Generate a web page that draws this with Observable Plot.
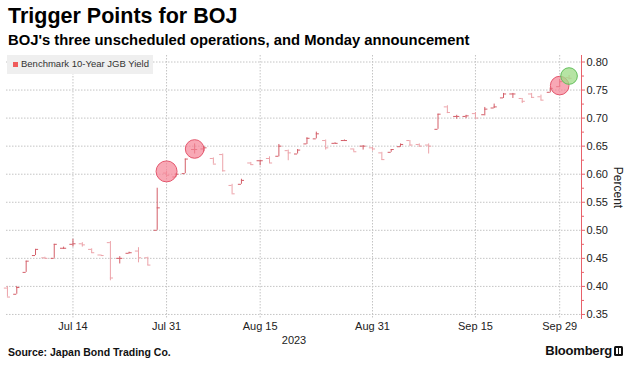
<!DOCTYPE html>
<html>
<head>
<meta charset="utf-8">
<script src="https://cdn.jsdelivr.net/npm/d3@7"></script>
<script src="https://cdn.jsdelivr.net/npm/@observablehq/plot@0.6"></script>
<style>
  html, body { margin: 0; padding: 0; background: #fff; }
  #wrap { position: relative; width: 638px; height: 374px; overflow: hidden; font-family: "Liberation Sans", Arial, sans-serif; }
  #title { position: absolute; left: 8px; top: 4px; font-weight: bold; font-size: 21.5px; color: #000; white-space: nowrap; }
  #subtitle { position: absolute; left: 8px; top: 32px; font-weight: bold; font-size: 14.8px; color: #000; white-space: nowrap; }
  #chart { position: absolute; left: 0; top: 50px; }
  #legend { position: absolute; left: 7px; top: 55px; width: 146px; height: 19px; background: #efefef; }
  #legend .sw { position: absolute; left: 6px; top: 7px; width: 5px; height: 5px; background: #ef5b5b; }
  #legend .lb { position: absolute; left: 14px; top: 3px; font-size: 9.5px; color: #333; white-space: nowrap; }
  #source { position: absolute; left: 8px; top: 346px; font-weight: bold; font-size: 10.5px; color: #111; white-space: nowrap; }
  #brand { position: absolute; right: 26px; top: 343px; font-weight: bold; font-size: 13px; color: #111; white-space: nowrap; letter-spacing: -0.2px; }
  #icon { position: absolute; left: 614px; top: 346px; }
</style>
</head>
<body>
<div id="wrap">
  <div id="title">Trigger Points for BOJ</div>
  <div id="subtitle">BOJ's three unscheduled operations, and Monday announcement</div>
  <div id="chart"></div>
  <div id="legend"><div class="sw"></div><div class="lb">Benchmark 10-Year JGB Yield</div></div>
  <div id="source">Source: Japan Bond Trading Co.</div>
  <div id="brand">Bloomberg</div>
  <svg id="icon" width="9" height="10" viewBox="0 0 9 10"><rect x="0" y="0" width="9" height="10" rx="1.5" fill="#111"/><rect x="2" y="2" width="2" height="6" fill="#fff"/><rect x="5" y="2" width="2" height="6" fill="#fff"/></svg>
</div>
<script>
// Trading days (Japan), 2023
const dates = [
  "2023-07-05","2023-07-06","2023-07-07","2023-07-10","2023-07-11","2023-07-12","2023-07-13","2023-07-14",
  "2023-07-18","2023-07-19","2023-07-20","2023-07-21","2023-07-24","2023-07-25","2023-07-26","2023-07-27",
  "2023-07-28","2023-07-31",
  "2023-08-01","2023-08-02","2023-08-03","2023-08-04","2023-08-07","2023-08-08","2023-08-09","2023-08-10",
  "2023-08-14","2023-08-15","2023-08-16","2023-08-17","2023-08-18","2023-08-21","2023-08-22","2023-08-23",
  "2023-08-24","2023-08-25","2023-08-28","2023-08-29","2023-08-30","2023-08-31",
  "2023-09-01","2023-09-04","2023-09-05","2023-09-06","2023-09-07","2023-09-08","2023-09-11","2023-09-12",
  "2023-09-13","2023-09-14","2023-09-15","2023-09-19","2023-09-20","2023-09-21","2023-09-22","2023-09-25",
  "2023-09-26","2023-09-27","2023-09-28","2023-09-29",
  "2023-10-02"
];
const open  = [0.397,0.386,0.425,0.455,0.451,0.450,0.468,0.475, 0.476,0.466,0.456,0.478,0.450,0.459,0.463,0.451, 0.500,0.602,
               0.595,0.601,0.644,0.645,0.628,0.635,0.580,0.582, 0.620,0.624,0.628,0.632,0.642,0.636,0.654,0.663, 0.660,0.655,0.660,0.645,0.650,0.647,
               0.638,0.639,0.649,0.660,0.653,0.652,0.680,0.720, 0.703,0.703,0.708,0.706,0.718,0.736,0.743,0.735, 0.743,0.738,0.746,0.756,
               0.772];
const high  = [0.400,0.400,0.445,0.466,0.452,0.475,0.470,0.484, 0.478,0.467,0.456,0.480,0.453,0.461,0.469,0.452, 0.575,0.605,
               0.601,0.627,0.654,0.649,0.629,0.636,0.582,0.591, 0.621,0.625,0.631,0.653,0.643,0.644,0.665,0.675, 0.661,0.656,0.661,0.645,0.651,0.648,
               0.639,0.644,0.654,0.660,0.654,0.654,0.707,0.722, 0.705,0.705,0.710,0.719,0.725,0.744,0.744,0.735, 0.744,0.741,0.754,0.769,
               0.776];
const low   = [0.381,0.386,0.425,0.455,0.449,0.450,0.466,0.470, 0.470,0.459,0.455,0.410,0.440,0.458,0.442,0.437, 0.500,0.594,
               0.594,0.601,0.636,0.640,0.618,0.604,0.565,0.582, 0.616,0.615,0.619,0.631,0.624,0.636,0.653,0.663, 0.643,0.654,0.659,0.640,0.643,0.641,
               0.625,0.639,0.648,0.650,0.648,0.636,0.680,0.708, 0.698,0.699,0.699,0.704,0.717,0.735,0.735,0.726, 0.735,0.731,0.745,0.754,
               0.768];
const close = [0.381,0.398,0.445,0.466,0.450,0.475,0.468,0.476, 0.474,0.460,0.455,0.415,0.450,0.460,0.451,0.438, 0.540,0.598,
               0.600,0.627,0.644,0.647,0.618,0.606,0.565,0.589, 0.617,0.624,0.620,0.650,0.638,0.643,0.664,0.672, 0.647,0.655,0.660,0.640,0.650,0.645,
               0.626,0.644,0.653,0.652,0.650,0.650,0.707,0.710, 0.703,0.704,0.700,0.716,0.720,0.743,0.743,0.730, 0.737,0.732,0.753,0.765,
               0.771];

// BOJ unscheduled operations and Monday announcement
const opDates = ["2023-07-31","2023-08-03","2023-09-29"];
const opYields = [0.605, 0.645, 0.758];
const announceDates = ["2023-10-02"];
const announceYields = [0.775];

// Axis ticks
const xTickDates = ["2023-07-14","2023-07-31","2023-08-15","2023-08-31","2023-09-15","2023-09-29"];
const xTickLabels = ["Jul 14","Jul 31","Aug 15","Aug 31","Sep 15","Sep 29"];
const yTicks = [0.35,0.40,0.45,0.50,0.55,0.60,0.65,0.70,0.75,0.80];
const yMinorTicks = [0.375,0.425,0.475,0.525,0.575,0.625,0.675,0.725,0.775];

const idx = d => dates.indexOf(d);
const bars = dates.map((d, i) => ({i, date: d, open: open[i], high: high[i], low: low[i], close: close[i]}));
const ops = opDates.map((d, k) => ({i: idx(d), y: opYields[k]}));
const ann = announceDates.map((d, k) => ({i: idx(d), y: announceYields[k]}));
const xTicks = xTickDates.map(idx);
const xLabel = new Map(xTicks.map((t, k) => [t, xTickLabels[k]]));

const up = "#d45f69", down = "#eca3a9", axisRed = "#e8616a";
const barColor = d => d.close >= d.open ? up : down;
const xDomain = [-0.1, 61.33];
const tickHalf = 0.33;
const opStyle = {x: "i", y: "y", fill: "#f58396", fillOpacity: 0.7, stroke: "#e4576d", strokeWidth: 1};

const chart = Plot.plot({
  width: 638,
  height: 295,
  marginTop: 5,
  marginBottom: 26,
  marginLeft: 6,
  marginRight: 57,
  style: {fontFamily: "Liberation Sans, Arial, sans-serif", fontSize: "11px", background: "transparent"},
  x: {domain: xDomain, label: null, axis: null},
  y: {domain: [0.341, 0.8116], label: null, axis: null},
  color: {type: "identity"},
  marks: [
    Plot.gridY(yTicks, {stroke: "#c4c4c4", strokeOpacity: 1, strokeDasharray: "1.5,1.5"}),
    Plot.gridX(xTicks, {stroke: "#c4c4c4", strokeOpacity: 1, strokeDasharray: "1.5,1.5"}),
    Plot.ruleX(bars, {x: "i", y1: "low", y2: "high", stroke: barColor, strokeWidth: 1}),
    Plot.ruleY(bars, {y: "open", x1: d => d.i - tickHalf, x2: "i", stroke: barColor, strokeWidth: 1}),
    Plot.ruleY(bars, {y: "close", x1: "i", x2: d => d.i + tickHalf, stroke: barColor, strokeWidth: 1}),
    Plot.dot(ops.slice(0, 1), {...opStyle, r: 10.5}),
    Plot.dot(ops.slice(1), {...opStyle, r: 9.3}),
    Plot.dot(ann, {x: "i", y: "y", r: 8.3, fill: "#9edb86", fillOpacity: 0.75, stroke: "#62bf5c", strokeWidth: 1}),
    Plot.ruleX([xDomain[1]], {stroke: axisRed, strokeWidth: 1}),
    Plot.axisY(yTicks, {anchor: "right", tickSize: 3, tickPadding: 2, stroke: axisRed, fill: "#222", fontSize: 11, tickFormat: d3.format(".2f"), label: null}),
    Plot.axisY(yMinorTicks, {anchor: "right", tickSize: 2, stroke: axisRed, tickFormat: () => "", label: null}),
    Plot.axisX(xTicks, {anchor: "bottom", tickSize: 0, tickPadding: 3, fill: "#222", fontSize: 11, tickFormat: t => xLabel.get(t), label: null}),
    Plot.text(["2023"], {text: d => d, frameAnchor: "bottom", dy: 21, textAnchor: "middle", lineAnchor: "middle", fontSize: 11, fill: "#222"}),
    Plot.text(["Percent"], {text: d => d, frameAnchor: "right", dx: 36, rotate: 90, textAnchor: "middle", lineAnchor: "middle", fontSize: 12, fill: "#222"})
  ]
});
document.getElementById("chart").appendChild(chart);
</script>
</body>
</html>
